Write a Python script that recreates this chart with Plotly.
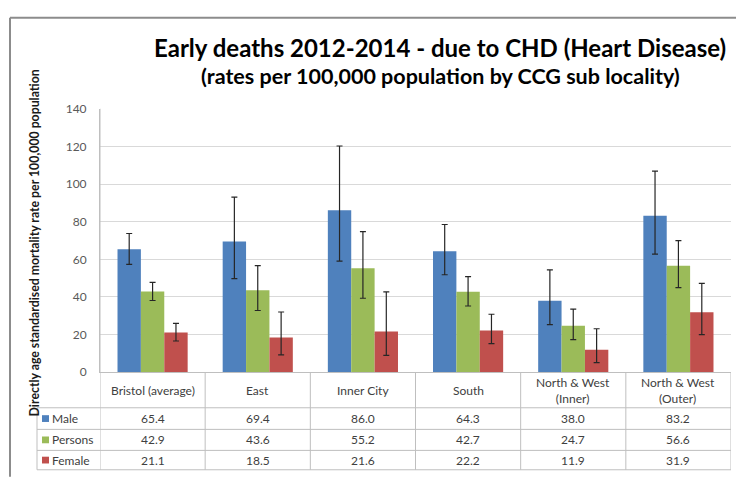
import plotly.graph_objects as go

# --- data -------------------------------------------------------------
localities = ["Bristol (average)", "East", "Inner City", "South",
              "North & West<br>(Inner)", "North & West<br>(Outer)"]

male = [65.4, 69.4, 86.0, 64.3, 38.0, 83.2]
persons = [42.9, 43.6, 55.2, 42.7, 24.7, 56.6]
female = [21.1, 18.5, 21.6, 22.2, 11.9, 31.9]

# 95% confidence limits
male_lower = [57.3, 49.7, 59.0, 51.8, 25.3, 62.7]
male_upper = [73.7, 93.0, 120.2, 78.5, 54.4, 106.8]
persons_lower = [38.1, 32.8, 39.3, 35.2, 17.3, 45.0]
persons_upper = [47.7, 56.6, 74.7, 50.8, 33.5, 69.9]
female_lower = [16.6, 9.2, 8.9, 15.2, 5.1, 20.0]
female_upper = [26.0, 32.0, 42.7, 30.8, 23.1, 47.2]

series_names = ["Male", "Persons", "Female"]
y_ticks = [0, 20, 40, 60, 80, 100, 120, 140]

# --- geometry helpers (pixel -> paper) ---------------------------------
W, H = 736, 479
FONT = "Lato"


def px(x):
    return x / W


def py(y):
    return 1 - y / H


PLOT_L, PLOT_R, PLOT_T, PLOT_B = 100, 731, 104, 376
ROW_LINES = [412.7, 435.0, 456.7, 476.7]
TABLE_L = 37
GRID = "#D9D9D9"
TABLE_LINE = "#BFBFBF"

colors = ["#4F81BD", "#9BBB59", "#C0504D"]
values = [male, persons, female]
lowers = [male_lower, persons_lower, female_lower]
uppers = [male_upper, persons_upper, female_upper]

fig = go.Figure()
for name, vals, lo, hi, col in zip(series_names, values, lowers, uppers, colors):
    fig.add_trace(go.Bar(
        x=localities, y=vals, name=name,
        marker=dict(color=col, line=dict(width=0)),
        error_y=dict(type="data", symmetric=False,
                     array=[h - v for h, v in zip(hi, vals)],
                     arrayminus=[v - l for v, l in zip(vals, lo)],
                     color="#262626", thickness=1.2, width=3),
        showlegend=False,
    ))

shapes = []
annotations = []

# outer chart border (top and left)
shapes.append(dict(type="line", xref="paper", yref="paper",
                   x0=px(10), x1=px(10), y0=py(10), y1=py(H + 5),
                   line=dict(color="#8C8C8C", width=2)))
shapes.append(dict(type="line", xref="paper", yref="paper",
                   x0=px(10), x1=px(W + 5), y0=py(10), y1=py(10),
                   line=dict(color="#8C8C8C", width=2)))

# data table grid: horizontal rules
for yl in ROW_LINES:
    shapes.append(dict(type="line", xref="paper", yref="paper",
                       x0=px(TABLE_L), x1=px(PLOT_R), y0=py(yl), y1=py(yl),
                       line=dict(color=TABLE_LINE, width=1)))
# left edge of the series-label column
shapes.append(dict(type="line", xref="paper", yref="paper",
                   x0=px(TABLE_L), x1=px(TABLE_L),
                   y0=py(ROW_LINES[0]), y1=py(ROW_LINES[-1]),
                   line=dict(color=TABLE_LINE, width=1)))
# column separators between localities
for k in range(len(localities) + 1):
    top = PLOT_T if k == 0 else PLOT_B
    shapes.append(dict(type="line", xref="x", yref="paper",
                       x0=k - 0.5, x1=k - 0.5, y0=py(top), y1=py(ROW_LINES[-1]),
                       line=dict(color=TABLE_LINE, width=1)))

cell_font = dict(family=FONT, size=12, color="#404040")

# header row: locality names
for loc in localities:
    annotations.append(dict(x=loc, xref="x", y=py((PLOT_B + ROW_LINES[0]) / 2),
                            yref="paper", text=loc, showarrow=False,
                            font=cell_font, xanchor="center", yanchor="middle"))

# value rows with legend keys
for r, (name, vals, col) in enumerate(zip(series_names, values, colors)):
    yc = (ROW_LINES[r] + ROW_LINES[r + 1]) / 2
    shapes.append(dict(type="rect", xref="paper", yref="paper",
                       x0=px(42), x1=px(49), y0=py(yc + 3.5), y1=py(yc - 3.5),
                       fillcolor=col, line=dict(width=0)))
    annotations.append(dict(x=px(50), xref="paper", y=py(yc), yref="paper",
                            text=name, showarrow=False, font=cell_font,
                            xanchor="left", yanchor="middle"))
    for loc, v in zip(localities, vals):
        annotations.append(dict(x=loc, xref="x", y=py(yc), yref="paper",
                                text=f"{v:.1f}", showarrow=False, font=cell_font,
                                xanchor="center", yanchor="middle"))

# titles
annotations.append(dict(x=px(440), y=py(41), xref="paper", yref="paper",
                        text="<b>Early deaths 2012-2014 - due to CHD (Heart Disease)</b>",
                        showarrow=False, font=dict(family=FONT, size=24, color="#000000"),
                        xanchor="center", yanchor="middle"))
annotations.append(dict(x=px(440), y=py(70), xref="paper", yref="paper",
                        text="<b>(rates per 100,000 population by CCG sub locality)</b>",
                        showarrow=False, font=dict(family=FONT, size=21.5, color="#000000"),
                        xanchor="center", yanchor="middle"))
annotations.append(dict(x=px(34), y=py(243), xref="paper", yref="paper",
                        text="<b>Directly age standardised mortality rate per 100,000 population</b>",
                        textangle=-90, showarrow=False,
                        font=dict(family=FONT, size=12.3, color="#1a1a1a"),
                        xanchor="center", yanchor="middle"))

fig.update_layout(
    width=W, height=H,
    margin=dict(l=0, r=0, t=0, b=0),
    paper_bgcolor="white", plot_bgcolor="white",
    barmode="group", bargap=0.333, bargroupgap=0,
    font=dict(family=FONT),
    xaxis=dict(domain=[px(PLOT_L), px(PLOT_R)], type="category",
               showticklabels=False, ticks="", showgrid=False,
               showline=True, linecolor=TABLE_LINE, linewidth=1,
               range=[-0.5, len(localities) - 0.5]),
    yaxis=dict(domain=[py(PLOT_B), py(PLOT_T)], range=[0, 140],
               tickvals=y_ticks, showgrid=True, gridcolor=GRID, gridwidth=1,
               zeroline=False, showline=True, linecolor=TABLE_LINE, linewidth=1,
               ticks="", ticklabelstandoff=10,
               tickfont=dict(family=FONT, size=12, color="#595959")),
    shapes=shapes, annotations=annotations,
)

fig.write_html("out.html")
